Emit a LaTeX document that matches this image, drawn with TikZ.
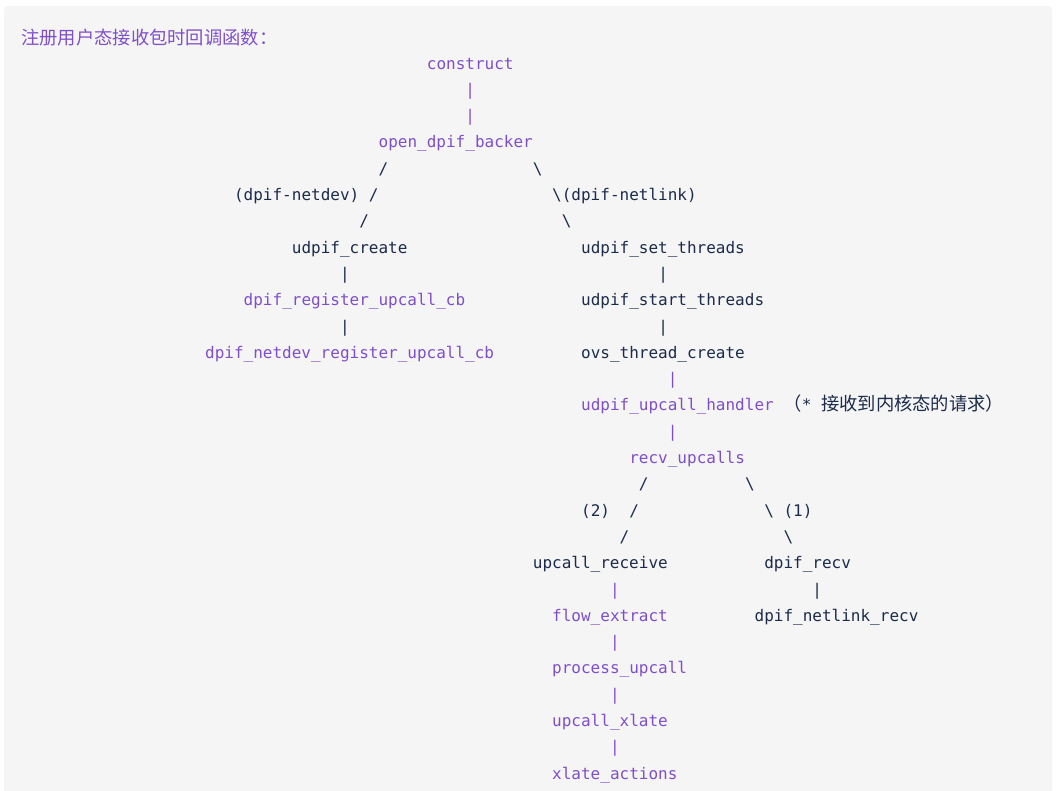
\documentclass[tikz,border=0pt]{standalone}
\usepackage{fontspec}
\newfontfamily\monof{DejaVu Sans Mono}
\newfontfamily\cjkf{Noto Sans CJK SC}
\definecolor{pur}{HTML}{7F4FC9}
\definecolor{drk}{HTML}{1C2B4A}
\definecolor{bgc}{HTML}{F5F5F5}
\tikzset{code/.style={anchor=base west,inner sep=0pt,outer sep=0pt,font=\monof\fontsize{16pt}{19pt}\selectfont}}
\newcommand\codetext[5]{\node[code,text=#4] (#1) at ({22+#2*9.64},{69+#3*26.3}) {#5};}
\begin{document}
\begin{tikzpicture}[x=1pt,y=-1pt]
\useasboundingbox (0,0) rectangle (1059,790);
\fill[white] (0,0) rectangle (1059,790);
\begin{scope}
\clip (0,0) rectangle (1059,790);
\fill[bgc,rounded corners=4pt] (4,6) rectangle (1052,810);
\end{scope}
\node[anchor=base west,inner sep=0pt,text=pur,font=\cjkf\fontsize{18.3pt}{20pt}\selectfont] (title) at (21,44.5) {注册用户态接收包时回调函数：};
\codetext{a0}{42}{0}{pur}{construct}
\codetext{a1}{46}{1}{pur}{|}
\codetext{a2}{46}{2}{pur}{|}
\codetext{a3}{37}{3}{pur}{open\_dpif\_backer}
\codetext{a4l}{37}{4}{drk}{/}
\codetext{a4r}{53}{4}{drk}{\textbackslash}
\codetext{a5l}{22}{5}{drk}{(dpif-netdev) /}
\codetext{a5r}{55}{5}{drk}{\textbackslash(dpif-netlink)}
\codetext{a6l}{35}{6}{drk}{/}
\codetext{a6r}{56}{6}{drk}{\textbackslash}
\codetext{a7l}{28}{7}{drk}{udpif\_create}
\codetext{a7r}{58}{7}{drk}{udpif\_set\_threads}
\codetext{a8l}{33}{8}{drk}{|}
\codetext{a8r}{66}{8}{drk}{|}
\codetext{a9l}{23}{9}{pur}{dpif\_register\_upcall\_cb}
\codetext{a9r}{58}{9}{drk}{udpif\_start\_threads}
\codetext{a10l}{33}{10}{drk}{|}
\codetext{a10r}{66}{10}{drk}{|}
\codetext{a11l}{19}{11}{pur}{dpif\_netdev\_register\_upcall\_cb}
\codetext{a11r}{58}{11}{drk}{ovs\_thread\_create}
\codetext{a12}{67}{12}{pur}{|}
\codetext{a13}{58}{13}{pur}{udpif\_upcall\_handler}
\node[code,text=drk] (note) at ({22+79*9.64},{69+13*26.3}) {{\cjkf\fontsize{18.3pt}{20pt}\selectfont （}* {\cjkf\fontsize{18.3pt}{20pt}\selectfont 接收到内核态的请求）}};
\codetext{a14}{67}{14}{pur}{|}
\codetext{a15}{63}{15}{pur}{recv\_upcalls}
\codetext{a16l}{64}{16}{drk}{/}
\codetext{a16r}{75}{16}{drk}{\textbackslash}
\codetext{a17l}{58}{17}{drk}{(2)\ \ /}
\codetext{a17r}{77}{17}{drk}{\textbackslash\ (1)}
\codetext{a18l}{62}{18}{drk}{/}
\codetext{a18r}{79}{18}{drk}{\textbackslash}
\codetext{a19l}{53}{19}{drk}{upcall\_receive}
\codetext{a19r}{77}{19}{drk}{dpif\_recv}
\codetext{a20l}{61}{20}{pur}{|}
\codetext{a20r}{82}{20}{drk}{|}
\codetext{a21l}{55}{21}{pur}{flow\_extract}
\codetext{a21r}{76}{21}{drk}{dpif\_netlink\_recv}
\codetext{a22}{61}{22}{pur}{|}
\codetext{a23}{55}{23}{pur}{process\_upcall}
\codetext{a24}{61}{24}{pur}{|}
\codetext{a25}{55}{25}{pur}{upcall\_xlate}
\codetext{a26}{61}{26}{pur}{|}
\codetext{a27}{55}{27}{pur}{xlate\_actions}
\end{tikzpicture}
\end{document}
